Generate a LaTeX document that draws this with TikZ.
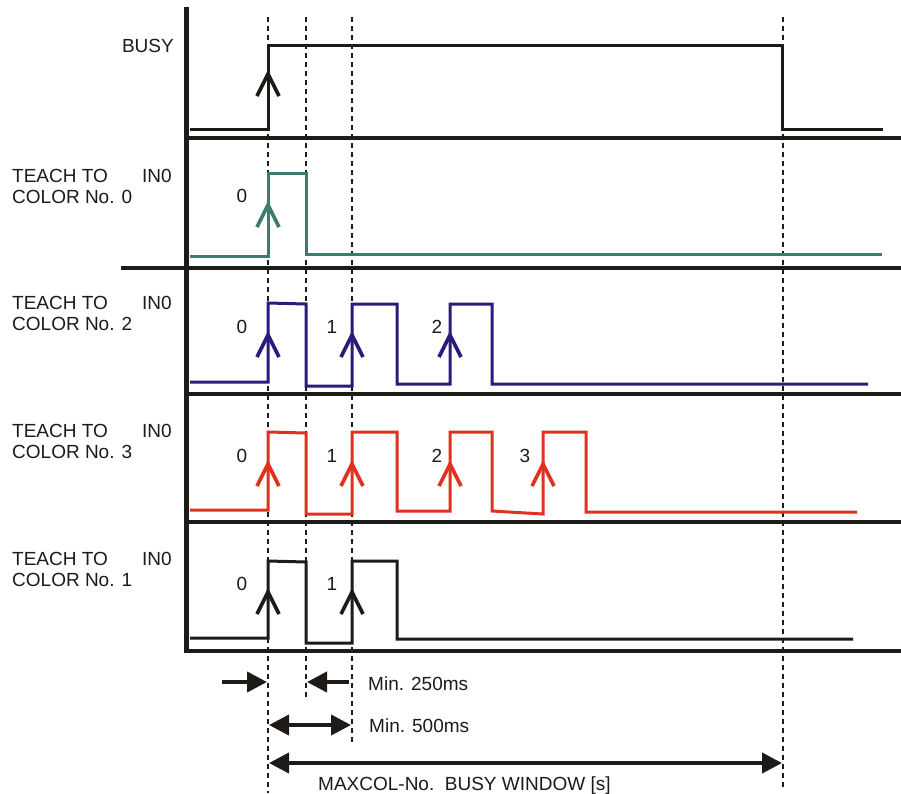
\documentclass[tikz,border=0pt]{standalone}
\usepackage{fontspec}
\setmainfont{Liberation Sans}
\usetikzlibrary{arrows.meta}
\definecolor{ink}{HTML}{1E1A18}
\definecolor{teal0}{HTML}{3D7A6F}
\definecolor{navy2}{HTML}{2B1A7A}
\definecolor{red3}{HTML}{E0301E}
\begin{document}
\begin{tikzpicture}[x=1pt,y=-1pt,
  sepline/.style={draw=ink,line width=4.5pt},
  sig/.style={line width=3pt,line join=miter},
  gridline/.style={draw=ink,line width=1.3pt,dash pattern=on 5pt off 4pt},
  chevron/.style={line width=3.6pt,line join=miter},
  lab/.style={font=\fontsize{19}{22}\selectfont,text=ink,inner sep=0pt},
  dimarrow/.style={draw=ink,line width=4pt,-{Triangle[length=20pt,width=20pt]}},
  dimboth/.style={draw=ink,line width=4pt,{Triangle[length=20pt,width=20pt]}-{Triangle[length=20pt,width=20pt]}}
]
\useasboundingbox (0,0) rectangle (901,793);
\fill[white] (0,0) rectangle (901,793);
\newcommand\chevup[3]{\draw[chevron,#1] (#2-11,#3+22) -- (#2,#3) -- (#2+11,#3+22);}

% dashed timing lines
\coordinate (d1t) at (268,17); \coordinate (d1b) at (268,793);
\coordinate (d2t) at (306,17); \coordinate (d2b) at (306,698);
\coordinate (d3t) at (352,17); \coordinate (d3b) at (352,743);
\coordinate (d4t) at (783,17); \coordinate (d4b) at (783,789);
\draw[gridline] (d1t) -- (d1b);
\draw[gridline] (d2t) -- (d2b);
\draw[gridline] (d3t) -- (d3b);
\draw[gridline] (d4t) -- (d4b);

% axis and separators
\draw[sepline] (186.5,7) -- (186.5,653);
\draw[sepline] (186,138) -- (901,138);
\draw[sepline] (121,268) -- (901,268);
\draw[sepline] (186,394) -- (901,394);
\draw[sepline] (186,522) -- (901,522);
\draw[sepline] (186,651) -- (901,651);

% BUSY
\draw[sig,ink] (190,129) -- (268,129) -- (268,45.5) -- (782,45.5) -- (782,129) -- (883,129);
\chevup{ink}{268}{74}
% TEACH TO COLOR 0
\draw[sig,teal0] (190,256) -- (268,256) -- (268,173) -- (306,173) -- (306,254) -- (882,254);
\chevup{teal0}{268}{205}
% TEACH TO COLOR 2
\draw[sig,navy2] (190,382) -- (268,382) -- (268,303) -- (306,304) -- (306,386) -- (352,386) -- (352,304) -- (397,304) -- (397,384) -- (450,384) -- (450,304) -- (492,304) -- (492,384) -- (868,384);
\chevup{navy2}{268}{335}
\chevup{navy2}{352}{335}
\chevup{navy2}{450}{335}
% TEACH TO COLOR 3
\draw[sig,red3] (190,510) -- (268,510) -- (268,432) -- (306,433) -- (306,514) -- (352,514) -- (352,432) -- (397,432) -- (397,511) -- (450,511) -- (450,432) -- (492,432) -- (492,511) -- (543,514) -- (543,432) -- (586,432) -- (586,512) -- (857,512);
\chevup{red3}{268}{464}
\chevup{red3}{352}{464}
\chevup{red3}{450}{464}
\chevup{red3}{543}{464}
% TEACH TO COLOR 1
\draw[sig,ink] (190,638) -- (268,638) -- (268,561) -- (306,562) -- (306,643) -- (352,643) -- (352,561) -- (397,561) -- (397,639) -- (853,639);
\chevup{ink}{268}{592}
\chevup{ink}{352}{592}

% left labels
\node[lab,anchor=base east] (lbusy) at (174,52) {BUSY};
\node[lab,anchor=base west] (t0a) at (12,182) {TEACH TO};
\node[lab,anchor=base west] (t0b) at (12,203) {COLOR No. 0};
\node[lab,anchor=base west] (t0c) at (142,182) {IN0};
\node[lab,anchor=base west] (t2a) at (12,309) {TEACH TO};
\node[lab,anchor=base west] (t2b) at (12,330) {COLOR No. 2};
\node[lab,anchor=base west] (t2c) at (142,309) {IN0};
\node[lab,anchor=base west] (t3a) at (12,437) {TEACH TO};
\node[lab,anchor=base west] (t3b) at (12,458) {COLOR No. 3};
\node[lab,anchor=base west] (t3c) at (142,437) {IN0};
\node[lab,anchor=base west] (t1a) at (12,565) {TEACH TO};
\node[lab,anchor=base west] (t1b) at (12,586) {COLOR No. 1};
\node[lab,anchor=base west] (t1c) at (142,565) {IN0};

% pulse numbers
\node[lab,anchor=base] (n00) at (242,202) {0};
\node[lab,anchor=base] (n20) at (242,333) {0};
\node[lab,anchor=base] (n21) at (332,333) {1};
\node[lab,anchor=base] (n22) at (437,333) {2};
\node[lab,anchor=base] (n30) at (242,462) {0};
\node[lab,anchor=base] (n31) at (332,462) {1};
\node[lab,anchor=base] (n32) at (437,462) {2};
\node[lab,anchor=base] (n33) at (525,462) {3};
\node[lab,anchor=base] (n10) at (242,590) {0};
\node[lab,anchor=base] (n11) at (332,590) {1};

% dimension arrows
\coordinate (a1s) at (222,682); \coordinate (a1e) at (267,682);
\coordinate (a2s) at (349,682); \coordinate (a2e) at (307,682);
\draw[dimarrow] (a1s) -- (a1e);
\draw[dimarrow] (a2s) -- (a2e);
\node[lab,anchor=base west] (m250) at (368,690) {Min. 250ms};
\coordinate (b1) at (269,725); \coordinate (b2) at (351,725);
\draw[dimboth] (b1) -- (b2);
\node[lab,anchor=base west] (m500) at (369,732) {Min. 500ms};
\coordinate (c1) at (269,763); \coordinate (c2) at (782,763);
\draw[dimboth] (c1) -- (c2);
\node[lab,anchor=base west] (mx) at (318,790) {MAXCOL-No.\ \ BUSY WINDOW [s]};
\end{tikzpicture}
\end{document}
